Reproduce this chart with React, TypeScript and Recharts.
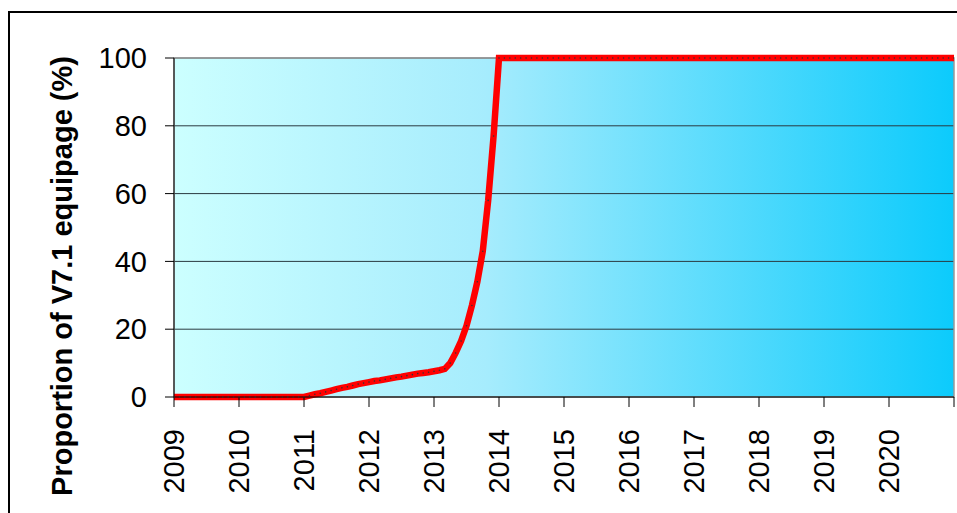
import { CartesianGrid, Line, LineChart, ReferenceArea, XAxis, YAxis } from "recharts";

const startYear = 2009;
const yearTicks = [2009, 2010, 2011, 2012, 2013, 2014, 2015, 2016, 2017, 2018, 2019, 2020, 2021];
const percentTicks = [0, 20, 40, 60, 80, 100];

// monthly proportion of V7.1 equipage (%), Jan 2009 .. Jan 2021
const equipage = [
  0, 0, 0, 0, 0, 0, 0, 0, 0, 0, 0, 0,
  0, 0, 0, 0, 0, 0, 0, 0, 0, 0, 0, 0,
  0, 0.4, 0.8, 1.1, 1.5, 1.9, 2.3, 2.7, 3.0, 3.4, 3.8, 4.1,
  4.4, 4.7, 4.9, 5.2, 5.5, 5.8, 6.0, 6.3, 6.6, 6.9, 7.1, 7.3,
  7.6, 7.9, 8.3, 10, 13, 16.5, 21, 27, 34, 43, 58, 77,
  100, 100, 100, 100, 100, 100, 100, 100, 100, 100, 100, 100,
  100, 100, 100, 100, 100, 100, 100, 100, 100, 100, 100, 100,
  100, 100, 100, 100, 100, 100, 100, 100, 100, 100, 100, 100,
  100, 100, 100, 100, 100, 100, 100, 100, 100, 100, 100, 100,
  100, 100, 100, 100, 100, 100, 100, 100, 100, 100, 100, 100,
  100, 100, 100, 100, 100, 100, 100, 100, 100, 100, 100, 100,
  100, 100, 100, 100, 100, 100, 100, 100, 100, 100, 100, 100,
  100,
];

const data = equipage.map((value, i) => ({ t: startYear + i / 12, value }));

const font = "'Liberation Sans', Arial, sans-serif";

function YearTick(props: any) {
  const { x, y, payload } = props;
  if (payload.value === 2021) return null;
  const ty = y + 20;
  return (
    <text
      x={x}
      y={ty}
      dy="0.36em"
      transform={`rotate(-90 ${x} ${ty})`}
      textAnchor="end"
      fontSize={29}
      fontFamily={font}
      fill="#000"
    >
      {payload.value}
    </text>
  );
}

function AxisTitle() {
  return (
    <text
      x={62}
      y={276}
      dy="0.36em"
      transform="rotate(-90 62 276)"
      textAnchor="middle"
      fontSize={29}
      fontWeight="bold"
      fontFamily={font}
      fill="#000"
    >
      Proportion of V7.1 equipage (%)
    </text>
  );
}

export default function App() {
  return (
    <div
      style={{
        position: "absolute",
        left: 0,
        top: 0,
        width: 957,
        height: 513,
        overflow: "hidden",
        background: "#fff",
      }}
    >
      <div
        style={{
          position: "absolute",
          left: 8,
          top: 11,
          width: 1100,
          height: 700,
          border: "2px solid #000",
        }}
      />
      <LineChart
        width={957}
        height={513}
        data={data}
        margin={{ top: 58, right: 3, bottom: 0, left: 0 }}
        style={{ position: "absolute", left: 0, top: 0 }}
      >
        <defs>
          <linearGradient id="bg" x1="0" y1="0" x2="1" y2="0">
            <stop offset="0%" stopColor="#ccffff" />
            <stop offset="40%" stopColor="#a6ecfd" />
            <stop offset="100%" stopColor="#0ccbfc" />
          </linearGradient>
        </defs>
        <CartesianGrid vertical={false} stroke="#2a3a40" fill="url(#bg)" fillOpacity={1} />
        <ReferenceArea x1={2009} x2={2021} y1={0} y2={100} fill="none" stroke="#999" strokeWidth={1.5} />
        <XAxis
          dataKey="t"
          type="number"
          domain={[2009, 2021]}
          ticks={yearTicks}
          interval={0}
          height={116}
          stroke="#000"
          tickSize={10}
          tick={<YearTick />}
          allowDataOverflow
        />
        <YAxis
          domain={[0, 100]}
          ticks={percentTicks}
          width={174}
          stroke="#000"
          tickSize={9}
          tickMargin={18}
          tick={{ fontSize: 29, fontFamily: font, fill: "#000" }}
          label={<AxisTitle />}
        />
        <Line
          type="linear"
          dataKey="value"
          stroke="#ff0000"
          strokeWidth={6.5}
          dot={{ r: 0.8, fill: "#333", stroke: "none" }}
          isAnimationActive={false}
        />
      </LineChart>
    </div>
  );
}
